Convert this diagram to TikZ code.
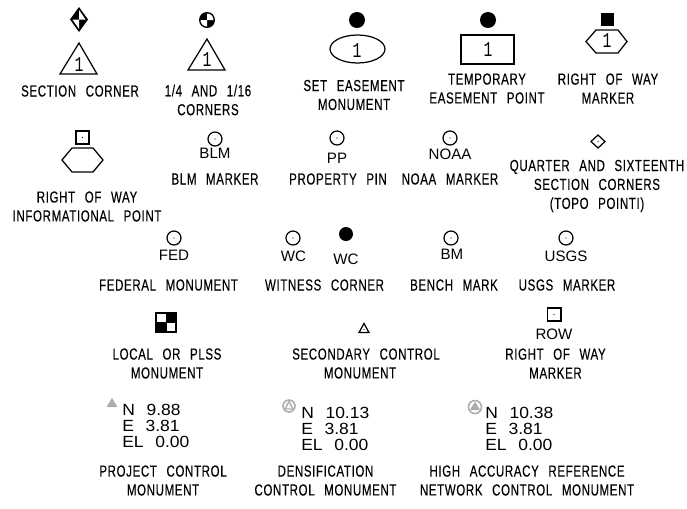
\documentclass[tikz,border=0pt]{standalone}
\usepackage{fontspec}
\newfontfamily\cadfont[FakeStretch=0.72,FakeBold=0.25,LetterSpace=4,WordSpace=2.5]{Liberation Sans}
\newfontfamily\markfont[FakeStretch=1.0]{Liberation Sans}
\newfontfamily\coordfont[FakeStretch=1.08,WordSpace=2.4]{Liberation Sans}
\newfontfamily\numfont[FakeStretch=0.7]{Liberation Mono}
\definecolor{markgray}{gray}{0.68}
\tikzset{
  legendtext/.style={font=\cadfont\fontsize{9.1}{10.77}\selectfont,align=center,inner sep=0pt},
  marktext/.style={font=\markfont\fontsize{8.6}{9.07}\selectfont,inner sep=0pt},
  coordtext/.style={font=\coordfont\fontsize{9.2}{9.07}\selectfont,align=left,anchor=west,inner sep=0pt},
  numtext/.style={font=\numfont\fontsize{12}{12}\selectfont,inner sep=0pt},
  symbol/.style={line width=0.7pt,line join=miter}
}
\begin{document}
\begin{tikzpicture}[x=0.02cm,y=-0.02cm]
    \useasboundingbox (0,0) rectangle (687,508);
    % first row
    \fill (79,7) -- (88,19.5) -- (79,32) -- (70,19.5) -- cycle;
    \fill[white] (79,10) -- (85.5,19.5) -- (79,19.5) -- cycle;
    \fill[white] (79,29) -- (72.5,19.5) -- (79,19.5) -- cycle;
    \draw[symbol] (79,43) -- (97,74) -- (60,74) -- cycle;
    \node[numtext] (sec1) at (79,65) {1};
    \node[legendtext] (sec) at (80,91) {SECTION CORNER};
    \fill (207,20) circle (8);
    \fill[white] (207,20) -- (207,13.5) arc (270:360:6.5) -- cycle;
    \fill[white] (207,20) -- (207,26.5) arc (90:180:6.5) -- cycle;
    \draw[symbol] (207,39) -- (225,70) -- (188,70) -- cycle;
    \node[numtext] (quart1) at (207,60) {1};
    \node[legendtext] (quart) at (208,100) {1/4 AND 1/16\\CORNERS};
    \fill (357,20) circle (8);
    \draw[symbol] (357.5,49) ellipse (27.5 and 14);
    \node[numtext] (ease1) at (357,51) {1};
    \node[legendtext] (ease) at (354,95) {SET EASEMENT\\MONUMENT};
    \fill (488,20) circle (8);
    \draw[symbol] (461,35) rectangle (514,64);
    \node[numtext] (temp1) at (488,50) {1};
    \node[legendtext] (temp) at (487,88.5) {TEMPORARY\\EASEMENT POINT};
    \fill (601,13) rectangle (614,26);
    \draw[symbol] (586,41.5) -- (596,30) -- (618,30) -- (627,41.5) -- (618,53) -- (596,53) -- cycle;
    \node[numtext] (row1) at (607,41) {1};
    \node[legendtext] (row) at (608,88.5) {RIGHT OF WAY\\MARKER};
    % second row
    \draw[symbol] (76,131) rectangle (89,144);
    \fill (82.5,137.5) circle (0.6);
    \draw[symbol] (62,160) -- (72,148) -- (93,148) -- (103,160) -- (93,172) -- (72,172) -- cycle;
    \node[legendtext] (info) at (87,206.5) {RIGHT OF WAY\\INFORMATIONAL POINT};
    \draw[symbol] (215,139) circle (7);
    \fill (215,139) circle (0.6);
    \node[marktext] (blmtag) at (215,153) {BLM};
    \node[legendtext] (blm) at (215,179) {BLM MARKER};
    \draw[symbol] (337,138) circle (7);
    \fill (337,138) circle (0.6);
    \node[marktext] (pptag) at (337,158) {PP};
    \node[legendtext] (pp) at (338,179) {PROPERTY PIN};
    \draw[symbol] (450,138) circle (7);
    \fill (450,138) circle (0.6);
    \node[marktext] (noaatag) at (450,154) {NOAA};
    \node[legendtext] (noaa) at (450,179) {NOAA MARKER};
    \draw[symbol] (598,135) -- (605,141.5) -- (598,148) -- (591,141.5) -- cycle;
    \fill (598,141.5) circle (0.6);
    \node[legendtext] (topo) at (597,186) {QUARTER AND SIXTEENTH\\SECTION CORNERS\\(TOPO POINTI)};
    % third row
    \draw[symbol] (174,238) circle (7);
    \fill (174,238) circle (0.6);
    \node[marktext] (fedtag) at (174,255) {FED};
    \node[legendtext] (fed) at (168.5,285) {FEDERAL MONUMENT};
    \draw[symbol] (293,238) circle (7);
    \fill (293,238) circle (0.6);
    \node[marktext] (wctag) at (293.5,256) {WC};
    \fill (346,234) circle (7);
    \node[marktext] (wcfill) at (346,259) {WC};
    \node[legendtext] (wc) at (324.5,285) {WITNESS CORNER};
    \draw[symbol] (451,238) circle (7);
    \fill (451,238) circle (0.6);
    \node[marktext] (bmtag) at (452,254) {BM};
    \node[legendtext] (bm) at (454,285) {BENCH MARK};
    \draw[symbol] (566,238) circle (7);
    \fill (566,238) circle (0.6);
    \node[marktext] (usgstag) at (566,256) {USGS};
    \node[legendtext] (usgs) at (567,285) {USGS MARKER};
    % fourth row
    \fill (155,312) rectangle (177,333);
    \fill[white] (157,314) rectangle (165.5,322);
    \fill[white] (166.5,323) rectangle (175,331);
    \node[legendtext] (plss) at (167,363.5) {LOCAL OR PLSS\\MONUMENT};
    \draw[symbol] (364,323.5) -- (369,332.5) -- (359,332.5) -- cycle;
    \fill (364,329.5) circle (0.6);
    \node[legendtext] (second) at (366,363.5) {SECONDARY CONTROL\\MONUMENT\hspace*{6.8pt}};
    \draw[symbol] (547.5,308) rectangle (561,321);
    \fill (554,314.5) circle (0.6);
    \node[marktext] (rowtag) at (554,334) {ROW};
    \node[legendtext] (rowm) at (555.5,363.5) {RIGHT OF WAY\\MARKER};
    % fifth row
    \fill[markgray] (112,398) -- (117.5,407) -- (106.5,407) -- cycle;
    \node[coordtext] (pcoord) at (122,425.5) {N 9.88\\E 3.81\\EL 0.00};
    \node[legendtext] (project) at (163,480.5) {PROJECT CONTROL\\MONUMENT};
    \draw[markgray,line width=0.9pt] (289,406) circle (6);
    \draw[markgray,line width=0.8pt] (289,401.5) -- (293,409) -- (285,409) -- cycle;
    \node[coordtext] (dcoord) at (301,428.5) {N 10.13\\E 3.81\\EL 0.00};
    \node[legendtext] (dens) at (325.5,480.5) {DENSIFICATION\\CONTROL MONUMENT};
    \draw[markgray,line width=0.9pt] (475,407) circle (6.5);
    \fill[markgray] (475,401.5) -- (480,410) -- (470,410) -- cycle;
    \node[coordtext] (hcoord) at (485,429) {N 10.38\\E 3.81\\EL 0.00};
    \node[legendtext] (high) at (527,480.5) {HIGH ACCURACY REFERENCE\\NETWORK CONTROL MONUMENT};
\end{tikzpicture}
\end{document}
